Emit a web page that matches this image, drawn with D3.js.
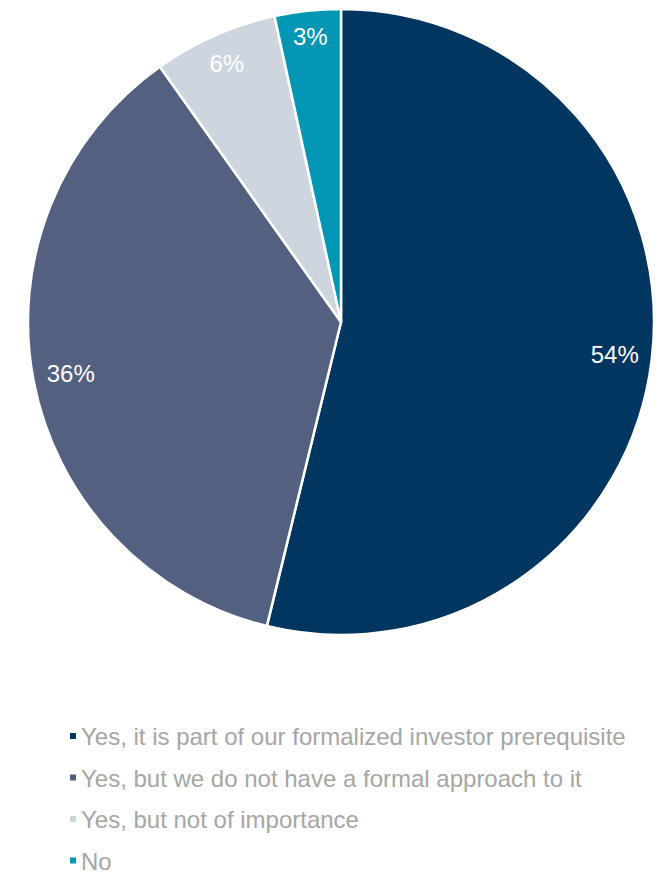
<!DOCTYPE html>
<html>
<head>
<meta charset="utf-8">
<script src="https://cdn.jsdelivr.net/npm/d3@7"></script>
<style>
  html, body { margin: 0; padding: 0; background: #ffffff; }
  svg { display: block; }
  text { font-family: "Liberation Sans", Arial, sans-serif; }
</style>
</head>
<body>
<svg id="chart" width="664" height="875"></svg>
<script>
// Survey answers and their shares (percent)
const categories = [
  "Yes, it is part of our formalized investor prerequisite",
  "Yes, but we do not have a formal approach to it",
  "Yes, but not of importance",
  "No"
];
const shares = [53.7, 36.3, 6.4, 3.4];
const colors = ["#003660", "#536080", "#CDD6DF", "#0096B4"];

const width = 664, height = 875;
const cx = 341, cy = 322, radius = 313;

const svg = d3.select("#chart");

const data = categories.map((c, i) => ({ category: c, value: shares[i], color: colors[i] }));

const pie = d3.pie().sort(null).value(d => d.value);
const arcs = pie(data);
const arc = d3.arc().innerRadius(0).outerRadius(radius);

const g = svg.append("g").attr("transform", `translate(${cx},${cy})`);

g.selectAll("path.slice")
  .data(arcs)
  .join("path")
  .attr("class", "slice")
  .attr("d", arc)
  .attr("fill", d => d.data.color)
  .attr("stroke", "#ffffff")
  .attr("stroke-width", 2.5)
  .attr("stroke-linejoin", "round");

// Value labels placed just inside the outer edge of each slice
const labelSize = 24;
const labels = g.selectAll("text.value")
  .data(arcs)
  .join("text")
  .attr("class", "value")
  .attr("text-anchor", "middle")
  .attr("dominant-baseline", "central")
  .attr("font-size", labelSize)
  .attr("fill", "#ffffff")
  .text(d => Math.round(d.data.value) + "%");

labels.each(function (d) {
  const w = this.getComputedTextLength();
  const h = labelSize;
  const a = (d.startAngle + d.endAngle) / 2;
  const s = Math.sin(a), c = -Math.cos(a);
  const extent = Math.abs(s) * w / 2 + Math.abs(c) * h / 2;
  const r = radius - 12 - extent;
  d3.select(this).attr("x", s * r).attr("y", c * r);
});

// Legend
const legendX = 70, legendY = 745, legendStep = 41.5;
const legend = svg.append("g");
const items = legend.selectAll("g.item")
  .data(data)
  .join("g")
  .attr("class", "item")
  .attr("transform", (d, i) => `translate(${legendX},${legendY + i * legendStep})`);

items.append("rect")
  .attr("x", 0)
  .attr("y", -12)
  .attr("width", 6)
  .attr("height", 6)
  .attr("fill", d => d.color);

items.append("text")
  .attr("x", 11)
  .attr("y", 0)
  .attr("font-size", 24)
  .attr("fill", "#A6A6A6")
  .text(d => d.category);
</script>
</body>
</html>
